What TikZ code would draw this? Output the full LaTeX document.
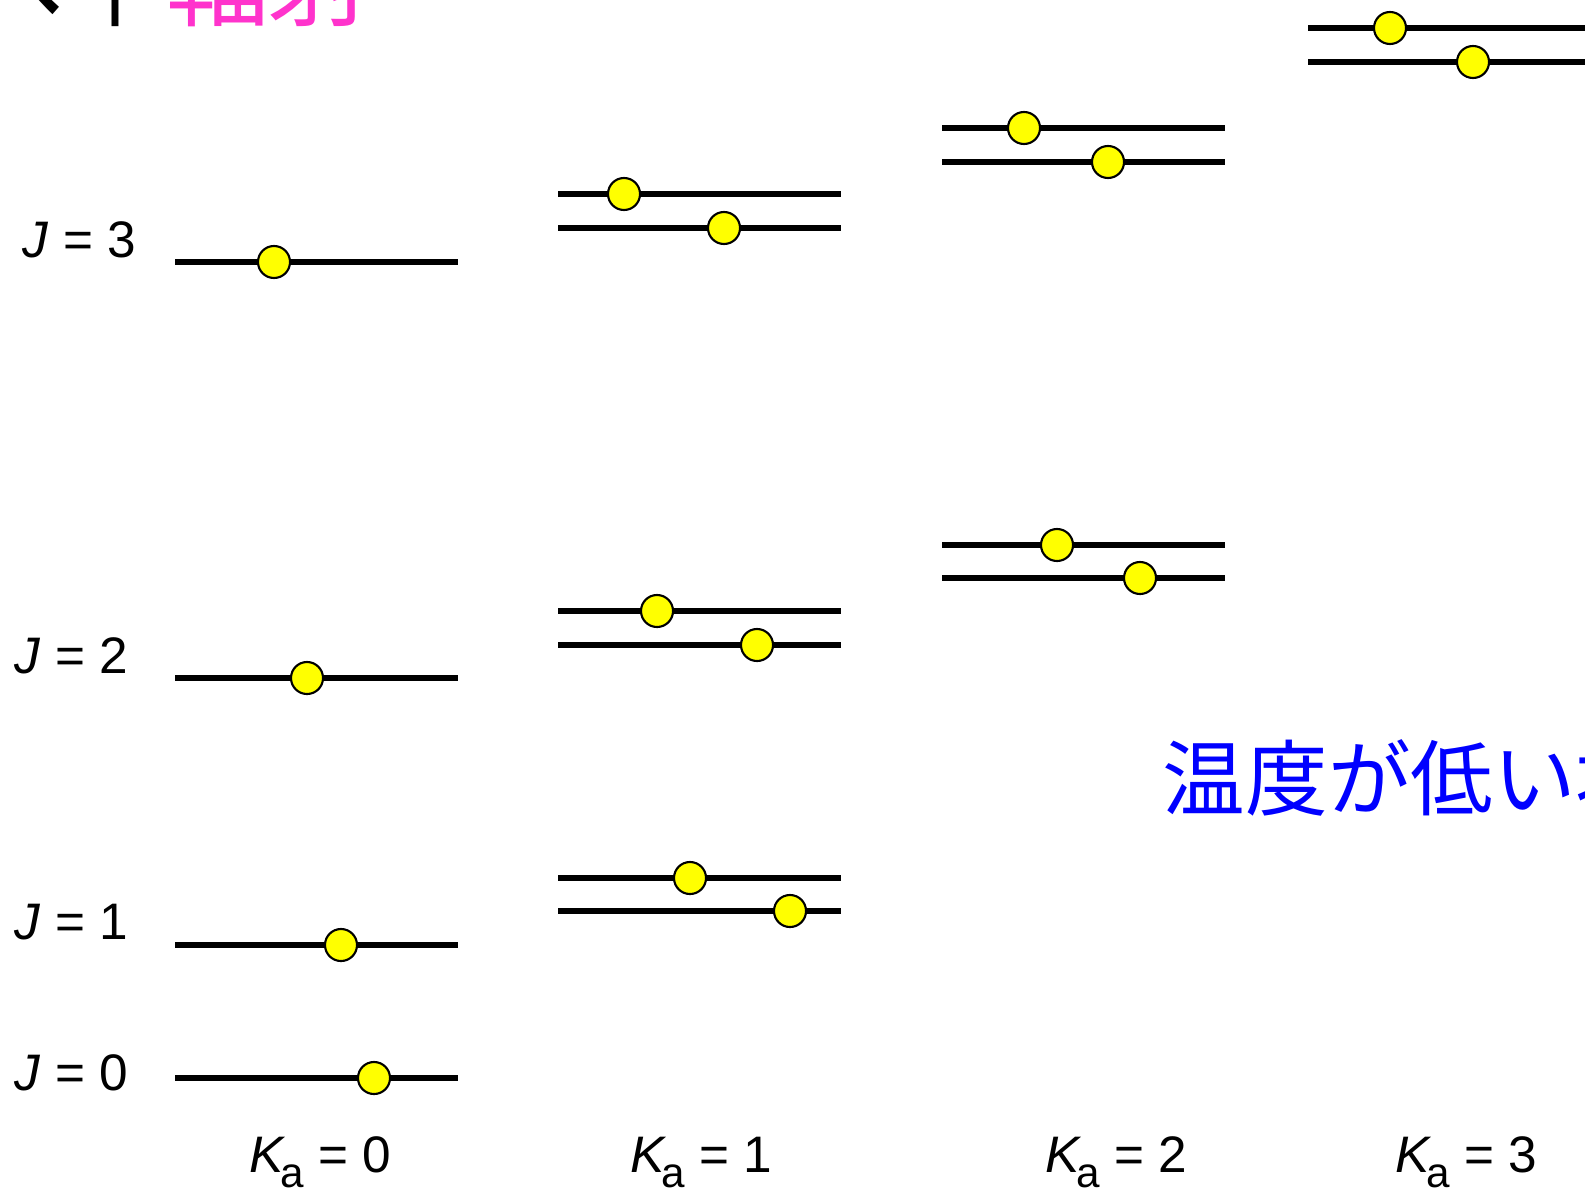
\documentclass[tikz,border=0pt]{standalone}
\usepackage{fontspec}
\setmainfont{Liberation Sans}
\newfontfamily\jfont{Noto Sans CJK JP}
\usepackage{xcolor}
\usepackage{tikz}
\usetikzlibrary{positioning}

\definecolor{dotyellow}{RGB}{255,255,0}
\definecolor{radpink}{RGB}{255,51,204}
\definecolor{lowblue}{RGB}{0,0,255}

\newcommand{\Kalabel}[1]{\textit{K}\kern-0.1em\raisebox{-0.3em}{\fontsize{12}{14}\selectfont a}\ = #1}

\begin{document}
\begin{tikzpicture}[x=0.01cm, y=-0.01cm,
  level/.style={line width=1.6pt},
  dot/.style={circle, draw, fill=dotyellow, line width=0.6pt, minimum size=0.32cm, inner sep=0pt},
  lbl/.style={font=\fontsize{14.6}{18}\selectfont, inner sep=0pt, anchor=base west}]
\clip (0,0) rectangle (1585,1188);
% K_a = 0
\draw[level] (175,262) -- (458,262);
\draw[level] (175,678) -- (458,678);
\draw[level] (175,945) -- (458,945);
\draw[level] (175,1078) -- (458,1078);
\node[dot] (k0j3) at (274,262) {};
\node[dot] (k0j2) at (307,678) {};
\node[dot] (k0j1) at (341,945) {};
\node[dot] (k0j0) at (374,1078) {};
% K_a = 1
\draw[level] (558,194) -- (841,194);
\draw[level] (558,228) -- (841,228);
\draw[level] (558,611) -- (841,611);
\draw[level] (558,645) -- (841,645);
\draw[level] (558,878) -- (841,878);
\draw[level] (558,911) -- (841,911);
\node[dot] (k1j3a) at (624,194) {};
\node[dot] (k1j3b) at (724,228) {};
\node[dot] (k1j2a) at (657,611) {};
\node[dot] (k1j2b) at (757,645) {};
\node[dot] (k1j1a) at (690,878) {};
\node[dot] (k1j1b) at (790,911) {};
% K_a = 2
\draw[level] (942,128) -- (1225,128);
\draw[level] (942,162) -- (1225,162);
\draw[level] (942,545) -- (1225,545);
\draw[level] (942,578) -- (1225,578);
\node[dot] (k2j3a) at (1024,128) {};
\node[dot] (k2j3b) at (1108,162) {};
\node[dot] (k2j2a) at (1057,545) {};
\node[dot] (k2j2b) at (1140,578) {};
% K_a = 3
\draw[level] (1308,28) -- (1600,28);
\draw[level] (1308,62) -- (1600,62);
\node[dot] (k3j3a) at (1390,28) {};
\node[dot] (k3j3b) at (1473,62) {};
% labels
\node[lbl] (lj3) at (22,258) {\textit{J} = 3};
\node[lbl] (lj2) at (14,673) {\textit{J} = 2};
\node[lbl] (lj1) at (14,939) {\textit{J} = 1};
\node[lbl] (lj0) at (14,1090) {\textit{J} = 0};
\node[lbl] (lk0) at (249,1172) {\Kalabel{0}};
\node[lbl] (lk1) at (630,1172) {\Kalabel{1}};
\node[lbl] (lk2) at (1045,1172) {\Kalabel{2}};
\node[lbl] (lk3) at (1395,1172) {\Kalabel{3}};
% Japanese text
\node[inner sep=0pt, anchor=base west, font=\jfont\fontsize{29}{31}\selectfont] (top) at (-38,19) {へ↑\textcolor{radpink}{輻射}};
\node[inner sep=0pt, anchor=west, text=lowblue, font=\jfont\fontsize{23.5}{26}\selectfont] (low) at (1162,778) {温度が低い場合};
\end{tikzpicture}
\end{document}
